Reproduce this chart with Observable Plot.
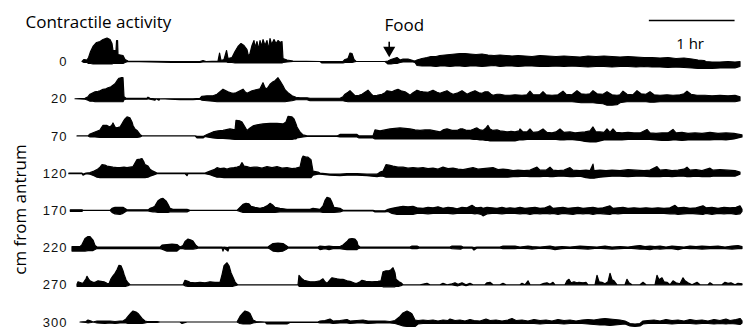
<!DOCTYPE html>
<html><head><meta charset="utf-8">
<script src="https://cdn.jsdelivr.net/npm/d3@7"></script>
<script src="https://cdn.jsdelivr.net/npm/@observablehq/plot@0.6"></script>
<style>body{margin:0;background:#fff}#chart svg{display:block}</style>
</head><body><div id="chart"></div>
<script>
// Recording sites (cm from antrum), top to bottom
const positions = ["0","20","70","120","170","220","270","300"];
// Each trace: [time (min), amplitude above baseline, excursion below baseline]
const trace0 = [[11.2,0,0],[12.6,2,1],[14.7,1.5,1],[15.8,4,2],[17.2,10,2],[18.9,15,2.5],[21.4,19,2.5],[23.8,20,2.5],[25.9,22,2.5],[28.7,23.5,2.5],[30.8,22,2.5],[32.2,18,2.5],[32.9,11,2],[35,11,2],[35.4,21,2],[36.1,21,2],[36.4,7,2],[39.9,6,2],[41.3,2,1],[43.4,0.5,0],[74.2,0,0.8],[93.8,0,0.8],[95.9,1,0.5],[98,0,0.5],[106.4,0.5,0.5],[107.5,8.5,0.5],[108.5,1,0.5],[110.6,2,0.5],[112.4,11,0.5],[113.4,3,1],[116.2,4,1],[118.3,10,1.5],[120.4,15,1.5],[122.5,18,1.5],[124.6,16,1.5],[126.7,12,1.5],[127.8,5,1.5],[128.8,8,1.5],[130.2,16,1.5],[131.6,21,1.5],[132.3,14,1.5],[133.7,20,1.5],[134.8,12,1.5],[135.8,21,1.5],[136.9,15,1.5],[137.9,22,1.5],[139.3,16,1.5],[140.7,21,1.5],[141.8,12,1.5],[142.8,23,1.5],[143.9,17,1.5],[145.6,22,1.5],[147,18,1.5],[148.4,21,1.5],[149.8,19,1.5],[151.2,20,1.5],[151.9,3,1],[154.7,1.5,0.5],[158.9,0.5,0],[177.8,0,0],[179.2,0,1.5],[193.9,0,1.5],[195.3,2,1],[197.4,3,1],[198.8,8.5,1],[200.2,8,1],[201.6,2,0.5],[203,0,0],[223.3,0,0],[225.4,0.5,2.5],[227.5,2,2.5],[229.6,3,2],[231.7,4,2],[233.8,1.5,1],[235.9,2.5,0.5],[239.4,2.5,0.5],[242.9,1,0.5],[244.3,0.5,1],[245.7,1.5,4],[249.2,3,4.5],[252.7,4,4.5],[255.5,5,4.5],[259,5,5],[261.8,6,4.5],[265.3,6.5,4.5],[268.8,7,5],[272.3,7.5,4.5],[275.8,8,4.5],[279.3,8,5],[282.8,7.5,4.5],[287,7,4.5],[291.2,7.5,5],[295.4,6.5,4.5],[299.6,6,4],[303.8,6.5,5],[308,6,4.5],[312.2,5.5,4.5],[316.4,6,5],[321.3,5.5,4.5],[326.2,5,4.5],[331.8,6,5],[337.4,5.5,5],[343,5,4.5],[348.6,5.5,5],[354.2,5,4.5],[359.8,4.5,5],[365.4,5.5,5.5],[371,5,5],[376.6,5.5,5],[382.2,5,5.5],[387.8,4.5,5],[393.4,5,5],[399,4.5,5.5],[404.6,4,5],[410.2,4,5.5],[415.8,3.5,5.5],[421.4,4,6],[427,3,5.5],[432.6,3.5,6],[438.2,2.5,6.5],[442.4,1.5,7],[446.6,1,7],[448,0,7],[452.2,-0.5,7],[457.8,-0.5,6.5],[463.4,0,6.5],[468.3,-0.5,6.5],[471.8,0,5]];
const trace20 = [[6.3,0,0],[13.3,0.5,0.5],[15.4,2,1.5],[16.8,4.5,2.5],[18.9,6,2.5],[20.3,7,3],[22.4,7.5,3],[23.8,8,3],[25.9,9.5,3],[28,10,3],[29.4,11,3],[31.5,12,3],[32.9,13.5,3],[34.3,15,3],[35.7,18,3],[37.1,20.5,3],[38.5,21,3],[39.9,21,3],[40.6,2,1],[42,0.5,0.5],[56.7,0.5,0.5],[57.4,1.5,0],[58.8,0.5,0.5],[62.3,0,1.5],[63,0,0],[65.1,0,1.5],[65.8,0,0],[79.8,0,1],[88.9,0,1],[93.8,0.5,0.5],[95.2,2.5,1.5],[98.7,3,2],[102.9,3,2.5],[105.7,4.5,3],[107.8,7,3],[109.9,9.5,3],[112,8,3],[113.4,7,3],[115.5,6,3],[116.9,5.5,3],[119,6,3],[120.4,7,3],[122.5,8.5,3],[123.9,9.5,3],[125.3,7,3],[126.7,5.5,3],[128.8,7,3],[130.2,8,3],[133,9,3],[135.8,10,3],[137.2,14,3],[137.9,16,3],[139.3,11,3],[140.7,10,3],[142.8,14.5,3],[144.9,17,3],[146.3,18,3],[148.4,21,3],[149.8,18,3],[151.9,13,3],[153.3,9,3],[155.4,6,2.5],[158.2,3,2],[161,1.5,1],[163.8,1,1],[168.7,1,1],[170.8,0.5,2],[191.8,0.5,2],[193.9,2,2],[195.3,4.5,2.5],[197.4,6.5,3],[198.8,8,3],[200.9,5,3],[202.3,3,3],[205.1,3.5,3],[207.2,4.5,3],[209.3,6.5,3],[211.4,8.5,3],[213.5,5,3],[214.9,3,3],[217.7,3.5,3],[221.2,4.5,3],[223.3,6,3],[224.7,8,3],[226.8,7.5,3],[228.2,7,3],[230.3,8.5,3],[232.4,9.5,3],[234.5,8,3],[237.3,7,3],[239.4,5,3],[240.8,3.5,3],[242.9,6,3],[245.7,8.5,3],[247.8,7.5,3],[249.9,7,3],[253.4,6.5,3],[256.9,8.5,3],[259.7,6.5,3],[261.8,5.5,3],[264.6,7,3],[266.7,8,3],[268.8,6,3],[270.9,4.5,3],[274.4,6,3],[277.2,8,3],[279.3,6,3],[280.7,4.5,3],[283.5,6.5,3],[286.3,8,3],[289.1,6,3],[291.2,5.5,3],[293.3,7,3],[295.4,7,3],[297.5,4.5,3],[298.9,3.5,3],[301.7,4.5,3],[303.8,4.5,3],[307.3,3.5,3],[310.8,3.5,3],[314.3,4,3],[319.2,3.5,3],[322.7,4,3],[324.8,7.5,3],[326.9,4,3],[331.8,4,3],[333.9,7,3],[336,4,3],[340.2,3.5,3],[344.4,4,3],[347.9,7.5,3],[350,4.5,3],[354.2,4,3],[357.7,8,3.5],[360.5,5,4],[364,4.5,4],[366.8,5,4],[368.9,8,4],[371.7,5,4.5],[375.9,4.5,5],[378.7,7,6.5],[382.2,4,6.5],[385.7,3.5,6],[387.8,4,4],[389.9,7.5,3.5],[392.7,4.5,3],[396.9,4,3],[399.7,8,3],[402.5,5,3],[406,4.5,3],[408.8,7,3.5],[411.6,4,3.5],[415.8,3.5,3],[420.7,4,3],[424.9,3.5,3],[429.8,4,3],[432.6,5,3],[434.7,7.5,3],[437.5,4.5,3],[441.7,3.5,3],[447.3,3.5,3],[452.2,3,3],[457.8,3.5,3],[463.4,3,3],[468.3,3.5,3],[471.8,2,2]];
const trace70 = [[7.7,0,0],[15.4,0,0],[16.8,2,1],[20.3,4,1],[23.8,6,1.5],[25.2,9,1.5],[25.9,10.5,1.5],[28.7,10.5,1.5],[30.8,9,1.5],[32.2,11,1.5],[32.9,13,1.5],[34.3,9,1.5],[35.7,8,1.5],[37.8,9,1.5],[39.9,14,1.5],[41.3,17,1.5],[42.7,19,1.5],[44.8,18,1.5],[46.2,14,1.5],[46.9,10.5,1.5],[48.3,7,1.5],[49.7,5.5,1.5],[51.8,1.5,1],[53.2,0,0],[90.3,0,0],[91.7,-0.5,2],[95.9,-0.5,2],[97.3,0.5,0.5],[98.7,1.5,1],[102.9,4,2],[106.4,5,2.5],[109.9,5.5,2.5],[114.8,7,3],[118.3,6,3.5],[119,15.5,3.5],[121.8,15,3.5],[123.2,14,3.5],[125.3,9,3.5],[126.7,5.5,3.5],[128.8,8,3.5],[130.9,10,3.5],[133.7,11,3.5],[137.9,12,3.5],[142.8,12.5,3.5],[147.7,12.5,3.5],[151.9,12,3.5],[154,14,3.5],[155.4,19.5,3.5],[158.2,19,3.5],[159.6,17,3],[161,12,3],[161.7,9,2],[163.8,4,1.5],[165.9,1,1],[168.7,0,0.5],[189.7,0,0.5],[191.8,1.5,1],[203.7,1.5,1],[205.1,0,2],[214.9,0,2],[216.3,6,3],[219.8,5,3],[223.3,6,3],[226.8,7,3],[230.3,7.5,3],[233.8,8,3],[237.3,7.5,3],[240.8,7,3],[244.3,6,3],[247.8,5.5,3],[251.3,6,3],[254.8,6,3],[258.3,5,3],[261.8,4,3],[263.9,6,3],[266.7,7,3],[270.2,5.5,3],[273.7,5.5,3],[275.8,7,3],[277.9,7,3],[280.7,5.5,3],[282.8,5.5,3],[285.6,7,3.5],[287.7,8,3.5],[289.8,6,4],[291.9,5.5,4],[294,8,4.5],[295.4,10.5,4.5],[296.8,7,5],[298.9,5.5,5],[301.7,6,5],[303.8,5,5],[306.6,4.5,5],[308.7,4,5],[311.5,4.5,5],[314.3,4,5],[317.1,5,4],[317.8,7,4],[319.9,4,4],[322.7,4,3.5],[324.8,7,3.5],[326.9,3.5,3.5],[330.4,4,3.5],[333.9,7,3.5],[336.7,3.5,3.5],[340.2,3,3.5],[343,4,3.5],[345.8,7,4],[348.6,3.5,4],[352.8,4,3.5],[356.3,3,4],[359.8,3.5,4.5],[363.3,4,5.5],[366.8,5,6],[368.9,9,6],[371,4,6],[373.8,4,5],[376.6,3.5,4],[378.7,7,4],[380.8,3.5,4],[382.9,7,4],[385,3.5,4],[389.2,3,4],[393.4,3.5,3.5],[397.6,3,3.5],[401.8,3,3.5],[406.7,6.5,3.5],[408.8,3,3.5],[413,2.5,4],[417.2,3,4.5],[421.4,3,4.5],[424.9,6.5,4],[427,3,4],[431.2,3.5,4.5],[435.4,2.5,4],[440.3,3,4],[445.2,2.5,4],[450.8,3.5,4],[456.4,2.5,3.5],[462,3,4],[467.6,2.5,3],[473.2,1,1]];
const trace120 = [[2,0,0.5],[11.2,0,0.5],[11.9,-1,2],[14,0,0.5],[16.8,0.5,1],[19.6,2,2.5],[21.7,3.5,4],[23.8,6,4.5],[25.2,8.5,4.5],[27.3,8,4.5],[28.7,7,4.5],[30.8,6.5,4.5],[32.9,6,4.5],[35.7,5.5,4.5],[37.8,5.5,4.5],[40.6,6,4.5],[42.7,5.5,4.5],[44.8,6,4.5],[46.9,6.5,4.5],[48.3,10,4.5],[49.7,13.5,4.5],[51.8,14,4.5],[53.2,14.5,4.5],[54.6,11,4.5],[55.3,8.5,4.5],[57.4,7,4],[58.8,4,3],[60.9,2,2],[63.7,0,0.5],[83.3,0,0.5],[84.7,0,2.5],[85.4,0,0.5],[97.3,0,0.5],[100.8,2,1.5],[103.6,3.5,3],[105.7,5.5,4],[107.8,4.5,4],[110.6,5,4.5],[112.7,4,4.5],[114.8,5,4.5],[117.6,5.5,4.5],[119.7,6,4.5],[121.8,7,4.5],[123.2,10.5,4.5],[124.6,7,4.5],[126.7,6.5,4.5],[128.8,5.5,4.5],[131.6,6,4.5],[133.7,6,4.5],[137.2,5,4.5],[140.7,6.5,4.5],[144.2,5.5,4.5],[147.7,6.5,4.5],[151.2,5,4.5],[154.7,5.5,4.5],[158.2,4.5,4.5],[161,5,4.5],[163.8,6,4.5],[165.2,15,4.5],[165.9,17,4.5],[168,16,4.5],[169.4,16,4.5],[171.5,13.5,4.5],[172.9,2,2],[176.4,1,1],[177.8,0,1],[184.8,-1,2],[191.8,-1,2.5],[196.7,-0.5,2],[203.7,-0.5,2],[210.7,-1,2.5],[217.7,-1,3.5],[219.8,1,3],[221.9,2,3],[224,8.5,4],[226.1,8,4],[228.9,7,4],[232.4,6,4],[235.9,6,4],[239.4,5,4],[242.9,5.5,4],[246.4,5,4],[249.9,5.5,4],[253.4,4.5,4],[256.9,5,4],[260.4,4,4],[263.9,6,4],[267.4,4.5,4],[270.9,5,4],[274.4,4,4],[277.9,3.5,4],[281.4,4.5,4],[284.9,5.5,4],[288.4,4,4],[291.9,4.5,4],[295.4,5,4],[298.9,5.5,4],[302.4,3.5,4],[305.9,4,4],[309.4,3.5,4],[312.9,2.5,3.5],[316.4,3,3.5],[320.6,2.5,3],[324.8,3,3.5],[329.7,6,3.5],[331.8,3,3.5],[336,3,3],[338.8,6,3.5],[340.9,3,3.5],[344.4,2.5,3],[348.6,3,3],[352.8,5.5,3.5],[354.9,3,3.5],[359.8,2.5,3],[364,3,4.5],[366.8,2.5,5],[368.9,9,5],[369.6,2.5,5],[373.8,3,4],[378,2.5,3.5],[382.2,3,3],[387.8,2.5,3],[393.4,3.5,3.5],[399,3,3],[404.6,2.5,3],[408.8,3,3.5],[413.7,6.5,3.5],[415.8,3,3.5],[420,3.5,3],[424.2,2.5,3.5],[428.4,3,3],[432.6,4,3],[434.7,6,3.5],[436.8,3,3.5],[441,3.5,3],[445.2,2.5,3.5],[450.8,5,3.5],[452.9,3,3],[457.8,3.5,3],[463.4,3,3],[468.3,2.5,3],[471.8,1,1]];
const trace170 = [[3,0.5,1],[11.2,0.5,1],[11.9,0,0],[30.8,0,0],[32.2,2,2],[34.3,3,3.5],[37.8,3,4],[39.9,3,3],[42.7,0.5,0.5],[57.4,0.5,0.5],[58.8,2,1],[60.9,3,1.5],[62.3,4.5,1.5],[64.4,9.5,2],[66.5,11.5,2],[67.9,12,2],[70,9.5,2],[71.4,6,2],[72.8,2,1.5],[74.9,1,1.5],[84.7,1,1.5],[86.8,0,0],[119.7,0,0],[121.8,3,1],[123.9,6,2],[126,7,2],[128.1,6.5,2],[129.5,4,2],[132.3,3,2],[135.8,2,2],[138.6,3,2],[140.7,4.5,2],[142.8,7,2],[144.9,5,2],[146.3,3,2],[149.8,2,1.5],[154.7,1,1.5],[160.3,1,1.5],[170.8,1,1.5],[172.9,2,1.5],[177.8,1,1.5],[179.9,4.5,2],[181.3,10,2],[182.7,13,2],[184.8,12,2],[186.2,8,2],[187.6,3,2],[191.8,2,1.5],[193.9,0,0.5],[214.9,0,0.5],[216.3,-0.5,1.5],[223.3,-0.5,1.5],[225.4,1,1],[228.2,2,3],[231.7,3,4],[235.9,4,4],[239.4,3.5,4],[242.9,4,4],[245.7,2.5,3],[249.9,2,3],[253.4,3,3.5],[256.9,2.5,3],[260.4,3.5,3],[263.9,2,3],[267.4,3,3],[270.9,2.5,3.5],[273.7,1.5,3],[277.2,3,3],[280.7,2.5,3],[282.8,4,3],[284.2,5,3],[286.3,3,3.5],[287.7,2.5,3],[290.5,3,4],[291.9,2,5.5],[294.7,3,3.5],[298.2,2.5,3],[301.7,2,3],[305.2,3,3.5],[308,2,3],[310.8,2.5,3],[314.3,2,3],[317.8,3,3.5],[321.3,2,3],[324.8,2.5,4],[328.3,3,3],[331.8,2,3.5],[335.3,2.5,3],[338.8,4.5,3.5],[340.9,2,3],[344.4,2.5,4],[347.9,3,3],[351.4,2,3.5],[354.9,2.5,4],[358.4,3,3],[361.9,2,3.5],[365.4,2.5,3],[368.9,3,4],[372.4,2,3],[375.9,2.5,3.5],[380.8,4.5,4],[382.9,2,3],[386.4,2.5,3.5],[389.9,3,3],[393.4,2,3],[397.6,2.5,3],[401.8,2,3],[406,2.5,3],[410.2,2,3],[414.4,2.5,3],[418.6,2,3],[422.8,2.5,3.5],[426.3,5,3.5],[428.4,2.5,4],[432.6,3,3.5],[436.8,2,3],[441,2.5,3.5],[445.9,4.5,4],[448,2.5,3],[452.2,3,4],[456.4,2,3],[460.6,3,3.5],[464.8,2.5,3],[469,3,4],[471.8,4.5,3.5],[473.2,1,1]];
const trace220 = [[4.2,1,3.5],[9.8,1,3.5],[11.2,3,3.5],[13.3,9,3.5],[15.4,11,3],[16.8,11,3],[18.9,7.5,3],[20.3,2,2],[21.7,0.5,1],[65.8,0.5,1],[67.2,2.5,1.5],[70.7,3,3.5],[74.2,3.5,3.5],[77.7,3,3.5],[79.8,0.5,1],[81.9,2,1],[83.3,6,1.5],[85.4,8.5,1.5],[87.5,7.5,1.5],[88.9,6.5,1.5],[91,2,1],[92.4,0.5,0.5],[109.2,0.5,0.5],[109.9,0,3.5],[110.6,0.5,0.5],[113.4,0,3.5],[114.1,0.5,0.5],[141.4,0.5,0.5],[142.8,2,1.5],[144.9,4,3.5],[148.4,4.5,4],[151.9,4,3.5],[154,2,2],[155.4,0.5,0.5],[176.4,0.5,0.5],[177.8,1.5,2],[181.3,1,1],[184.1,1.5,2],[186.9,1,1],[191.8,1,1],[193.9,2.5,1.5],[196.7,6,2],[198.1,8.5,2],[200.2,9,2],[202.3,8.5,2],[203.7,6,2],[204.4,2,1],[205.8,0.5,0.5],[240.8,0.5,0.5],[242.2,1.5,1],[245.7,1.5,1],[247.1,0.5,0.5],[268.8,0.5,0.5],[270.2,1.5,1],[276.5,1.5,1.5],[277.9,0.5,0.5],[284.2,0.5,0.5],[285.6,0,2.5],[287.7,0.5,0.5],[303.8,0.5,0.5],[305.9,1.5,1],[314.3,1.5,1],[317.8,0.5,0.5],[323.4,1.5,1],[326.2,1,1.5],[331.8,0.5,0.5],[338.8,1.5,1],[342.3,0.5,2],[347.2,1,1],[352.8,0.5,0.5],[359.8,1.5,1],[365.4,1,1.5],[371.7,0.5,0.5],[377.3,1.5,1],[382.2,0.5,1.5],[387.8,1,1],[393.4,0.5,0.5],[398.3,1.5,1],[401.8,2,1.5],[405.3,1,1.5],[408.8,1.5,2],[412.3,1,1],[415.8,1.5,1.5],[420,0.5,1],[424.2,1.5,1],[428.4,1,2],[432.6,0.5,0.5],[436.8,1.5,1],[441,1,1],[445.2,1.5,1.5],[450.8,1,1],[456.4,1.5,1],[461.3,0.5,1],[466.2,1.5,1.5],[470.4,2,1],[473.2,1,1]];
const trace270 = [[7.7,0.5,1.5],[8.4,3,1.5],[10.5,2,1.5],[11.9,1.5,1.5],[14,6,1.5],[14.7,8.5,1.5],[16.1,5,1.5],[16.8,4,1.5],[18.9,2.5,1.5],[20.3,2.5,1.5],[22.4,4,1.5],[24.5,3.5,1.5],[26.6,3,1.5],[28.7,1.5,1.5],[30.1,1,1.5],[31.5,6,1.5],[32.9,9,1.5],[34.3,11.5,1.5],[35.7,15,1.5],[37.1,19.5,1.5],[38.5,19,1.5],[39.9,14,1.5],[40.6,10.5,1.5],[42,5,1.5],[43.4,2,1],[44.8,0,0],[81.9,0,0],[83.3,4.5,1],[85.4,3.5,1.5],[86.8,2.5,1.5],[90.3,2,1.5],[93.8,2.5,1.5],[97.3,2,1.5],[100.8,3,1.5],[104.3,2.5,1.5],[107.8,2.5,1.5],[109.2,10,1.5],[110.6,19,1.5],[112.7,22,1.5],[114.1,19,1.5],[115.5,12,1.5],[116.9,7.5,1.5],[118.3,3,1],[119.7,0.5,0.5],[120.4,0,0],[162.4,0,0],[163.1,9.5,1.5],[165.2,6,1.5],[166.6,4.5,1.5],[170.8,3,1.5],[174.3,3,1.5],[177.8,4,1.5],[179.9,6,1.5],[181.3,3,1.5],[182.7,1.5,1.5],[184.8,5,1.5],[186.2,7,1.5],[189.7,6,1.5],[191.8,5.5,1.5],[193.9,5.5,1.5],[196.7,4,1.5],[198.8,3.5,1.5],[202.3,1.5,1.5],[203.7,1.5,1.5],[205.8,3,1.5],[207.2,4.5,1.5],[210,3.5,1.5],[214.2,3,1.5],[218.4,3.5,1.5],[220.5,4,1.5],[221.9,13,2],[224,14,2],[226.1,14,2],[227.5,15,2],[228.9,17,2],[230.3,12,2],[231,5.5,1.5],[233.1,3,1.5],[234.5,2,1],[235.9,0,0],[247.8,0,0],[252.7,1.5,0],[254.8,0,0],[261.8,0,0],[263.9,1.5,0],[266.7,0,0],[270.2,1,0],[272.3,2,0.5],[274.4,0.5,1],[277.2,2,0],[280,0,1],[282.8,1.5,0],[284.9,0,0],[293.3,0,0],[294.7,2,0],[296.8,2.5,0],[298.9,0,0],[303.8,0,0],[305.9,1.5,0],[308,0,0],[317.8,0,0],[319.2,1.5,0],[321.3,0,0],[323.4,4,0],[324.8,0,0],[331.8,0,0],[334.6,1.5,0],[336.7,2,0],[338.8,0.5,0],[340.9,2.5,0],[342.3,0,0],[349.3,0,0],[350.7,4,0],[352.1,5.5,0],[353.5,2,0],[355.6,3,0],[357.7,2,0],[359.1,2.5,0],[361.9,2,0],[364,2.5,0],[365.4,0,0],[370.3,0,0],[371.7,9.5,0],[373.1,3,0],[375.2,2.5,0],[377.3,1,0],[379.4,3,0],[380.8,11.5,0],[382.2,5,0],[383.6,4,0],[385.7,0,0],[391.3,0,0],[392.7,5.5,0],[394.1,2,0],[396.2,0,0],[401.8,0,0],[403.9,2.5,0],[406,0,0],[412.3,0,0],[413.7,9.5,0],[415.1,5,0],[417.2,7,0],[418.6,3,0],[420.7,2.5,0],[422.8,0,0],[424.9,4,0],[427,2,0],[429.8,1,0],[431.9,7,0],[433.3,4,0],[435.4,2,0],[438.2,0,0],[441.7,2.5,0],[443.8,0,0],[449.4,0,0],[450.8,2,0],[452.9,0,0],[459.2,0,0],[461.3,2.5,0],[463.4,1.5,0],[465.5,2,0],[468.3,0,0],[470.4,1.5,0],[473.2,1,0]];
const trace300 = [[9.8,0,0],[14,0.5,0.5],[15.4,2,1],[17.5,1,0.5],[18.9,0,0],[21.7,1,1],[27.3,1,1.5],[30.8,1,1],[34.3,0.5,1.5],[37.8,1,1],[39.9,1,1],[42,3,1],[43.4,5.5,1.5],[45.5,9,1.5],[46.9,11,1.5],[49,10,1.5],[50.4,8.5,1.5],[51.8,6,1.5],[53.2,3.5,1.5],[55.3,1,1],[56.7,0.5,0.5],[63.7,0.5,0.5],[65.8,0,0],[79.8,0,0],[81.2,0,1.5],[84.7,0,0],[119.7,0,0],[121.8,5.5,1.5],[123.9,9,2],[125.3,11,2],[127.4,10,2],[128.8,8.5,2],[130.9,2,1],[133,0.5,0.5],[139.3,0,0],[140.7,0,2],[154.7,0,2],[156.8,0,0.5],[176.4,0,0.5],[177.8,1,1],[181.3,1.5,1],[184.8,3,1],[186.9,1,1.5],[191.8,1.5,1],[196.7,2.5,1],[198.8,1,1.5],[203.7,1.5,1],[207.9,2,1],[211.4,1,1.5],[217.7,1,1],[223.3,1,1],[226.8,0.5,1],[230.3,1.5,1.5],[233.8,5.5,3],[235.9,9,4],[238.7,11,4.5],[240.8,9.5,4.5],[242.2,8,4.5],[243.6,4,4.5],[244.3,2,4.5],[246.4,1.5,2],[249.9,2,1.5],[253.4,1.5,1.5],[256.9,2,1.5],[260.4,1,1.5],[263.9,2,1.5],[267.4,1.5,1.5],[268.8,3,1.5],[272.3,1.5,1.5],[275.8,2,1.5],[279.3,1,1.5],[282.8,2.5,1.5],[285.6,1.5,1.5],[289.8,1,1.5],[294,3,1.5],[296.8,1.5,1.5],[301,2,1.5],[305.2,1,1.5],[309.4,2,1.5],[312.2,3.5,1.5],[315,1.5,1.5],[319.2,2,1.5],[323.4,1,1.5],[327.6,2.5,1.5],[331.8,1.5,2],[336,2,1.5],[340.2,1,1.5],[344.4,2.5,1.5],[348.6,1.5,2],[352.8,2,1.5],[357,1,1.5],[361.2,2,1.5],[365.4,2.5,2],[369.6,2,2.5],[373.8,3,3],[377.3,3.5,3],[380.8,3,3.5],[384.3,2.5,3],[387.8,2,2.5],[391.3,1,2],[394.8,-1.5,4],[398.3,-2,4.5],[401.8,-1.5,4],[403.9,1,2],[407.4,1.5,1.5],[411.6,2,1.5],[415.8,1,1.5],[420,2.5,1.5],[424.2,1.5,2],[428.4,2,1.5],[432.6,1,1.5],[436.8,2.5,1.5],[441,1.5,2],[445.2,2,1.5],[449.4,1,1.5],[453.6,2.5,2],[457.8,1.5,1.5],[462,3,2],[464.8,1.5,1.5],[469,2.5,2],[471.8,3.5,2.5],[473.2,1,1]];
const traces = [trace0, trace20, trace70, trace120, trace170, trace220, trace270, trace300];

const foodTime = [225.9];          // meal given (min)
const scaleBarMinutes = [408, 468]; // 1 hr bar
const totalMinutes = 473.2;

// layout (amplitude units)
const rowGap = 37.2;
const base = i => (positions.length - 1 - i) * rowGap;
const top0 = base(0);

const rows = traces.flatMap((tr, i) => tr.map(([t, hi, lo]) => ({row: positions[i], t, top: base(i) + hi, bottom: base(i) - lo})));

const sans = "Open Sans, Noto Sans, sans-serif";
const plot = Plot.plot({
  width: 744, height: 331,
  marginTop: 0, marginBottom: 0, marginLeft: 66, marginRight: 2,
  x: {domain: [0, totalMinutes], axis: null},
  y: {domain: [-9, top0 + 61.5], axis: null},
  style: {background: "white", overflow: "visible"},
  marks: [
    Plot.areaY(rows, {x: "t", y1: "bottom", y2: "top", z: "row", fill: "black", stroke: "black", strokeWidth: 1.2}),
    Plot.text(positions, {x: 0, y: (d, i) => base(i), text: d => d, textAnchor: "end", dx: 1, fontSize: 13, fontFamily: "Liberation Sans", fill: "#111"}),
    Plot.text(["Contractile activity"], {x: -28.7, y: top0 + 39.6, text: d => d, textAnchor: "start", fontSize: 17, fontFamily: sans}),
    Plot.text(["Food"], {x: 222.6, y: top0 + 36.6, text: d => d, textAnchor: "start", fontSize: 17, fontFamily: sans}),
    Plot.ruleX(foodTime, {x: d => d, y1: top0 + 14.5, y2: top0 + 19.8, stroke: "black", strokeWidth: 1.6}),
    Plot.dot(foodTime, {x: d => d, y: top0 + 11.7, symbol: "triangle", rotate: 180, r: 4.5, fill: "black", stroke: "none"}),
    Plot.ruleY([top0 + 41.5], {x1: scaleBarMinutes[0], x2: scaleBarMinutes[1], stroke: "black", strokeWidth: 1.5}),
    Plot.text(["1 hr"], {x: (scaleBarMinutes[0] + scaleBarMinutes[1]) / 2 - 1.5, y: top0 + 18, text: d => d, fontSize: 15, fontFamily: sans}),
    Plot.text(["cm from antrum"], {x: -32.5, y: 112.9, text: d => d, rotate: -90, fontSize: 17, fontFamily: sans})
  ]
});
d3.select(plot).selectAll('g[font-family="Liberation Sans"] text').style("letter-spacing", "1px");
document.getElementById("chart").append(plot);
</script></body></html>
